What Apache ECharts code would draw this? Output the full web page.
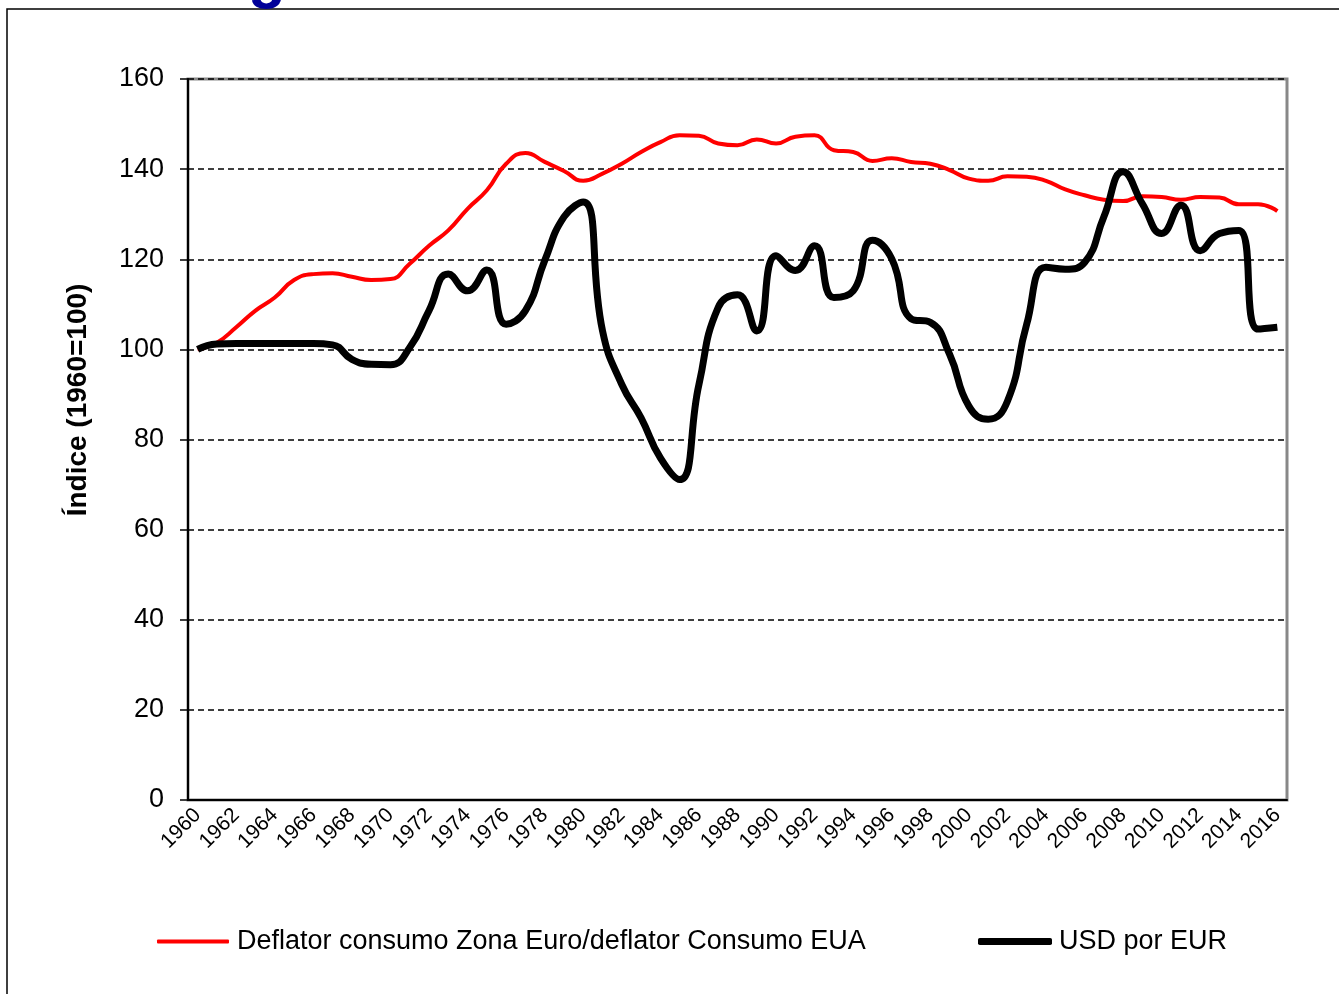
<!DOCTYPE html>
<html>
<head>
<meta charset="utf-8">
<script src="https://cdn.jsdelivr.net/npm/echarts@6/dist/echarts.min.js"></script>
<style>
  html, body { margin: 0; padding: 0; background: #fff; }
  #chart { width: 1339px; height: 994px; }
</style>
</head>
<body>
<div id="chart"></div>
<script>
  const years = [];
  for (let y = 1960; y <= 2016; y++) years.push(String(y));

  const deflatorName = 'Deflator consumo Zona Euro/deflator Consumo EUA';
  const usdName = 'USD por EUR';

  // deflator ratio index (1960=100)
  const deflator = [
    100, 101.5, 104.9, 108.6, 111.5, 115.4, 116.7, 116.9, 116.1, 115.4,
    115.6, 119, 123, 126.4, 131.2, 135.3, 141.2, 143.6, 141.6, 139.6,
    137.4, 139, 141.2, 143.8, 146, 147.5, 147.4, 145.7, 145.3, 146.6,
    145.7, 147.2, 147.5, 144.2, 143.8, 141.8, 142.4, 141.6, 141.2, 139.8,
    137.9, 137.4, 138.4, 138.3, 137.4, 135.5, 134.2, 133.2, 132.9, 134,
    133.8, 133.2, 133.8, 133.7, 132.2, 132.2, 130.7
  ];

  // USD per EUR index (1960=100)
  const usdEur = [
    100, 101.2, 101.3, 101.3, 101.3, 101.3, 101.3, 101, 97.8, 96.7,
    96.6, 100.4, 108.6, 116.7, 113, 117.6, 105.6, 108.6, 119.7, 129.4,
    132.7, 104.1, 92.2, 84.8, 75.9, 71.1, 92.2, 109.3, 112.1, 104.1,
    120.8, 117.5, 123, 111.5, 113, 124.2, 120.1, 106.8, 106, 98.9,
    87.4, 84.5, 88.5, 105.6, 118.2, 117.8, 119.3, 129.4, 139.4, 132.3,
    125.7, 132, 121.9, 125.7, 126.4, 104.5, 104.9
  ];

  const FONT = '"Liberation Sans", Arial, sans-serif';

  const chart = echarts.init(document.getElementById('chart'));
  chart.setOption({
    animation: false,
    textStyle: { fontFamily: FONT, color: '#000' },
    grid: {
      left: 188, top: 79, right: 52, bottom: 194,
      show: true, borderColor: '#888', borderWidth: 3, backgroundColor: '#fff'
    },
    graphic: [
      {
        type: 'rect', silent: true, z: -1,
        shape: { x: 7, y: 9, width: 1345, height: 1000 },
        style: { fill: 'none', stroke: '#000', lineWidth: 1.5 }
      },
      {
        type: 'text', left: 248, top: -52, silent: true,
        style: { text: 'g', font: 'bold 62px ' + FONT, fill: '#000099' }
      },
      {
        type: 'text', silent: true,
        x: 78, y: 400, rotation: Math.PI / 2,
        style: {
          text: 'Índice (1960=100)', font: 'bold 28px ' + FONT, fill: '#000',
          align: 'center', verticalAlign: 'middle'
        }
      }
    ],
    legend: [
      {
        data: [{ name: deflatorName, icon: 'roundRect' }],
        left: 157, top: 928, padding: 0, itemWidth: 72, itemHeight: 4, itemGap: 0,
        textStyle: { fontSize: 27, fontFamily: FONT, color: '#000', padding: [0, 0, 0, 3] },
        selectedMode: false
      },
      {
        data: [{ name: usdName, icon: 'roundRect' }],
        left: 978, top: 928, padding: 0, itemWidth: 74, itemHeight: 7, itemGap: 0,
        textStyle: { fontSize: 27, fontFamily: FONT, color: '#000', padding: [0, 0, 0, 2] },
        selectedMode: false
      }
    ],
    xAxis: {
      type: 'category',
      data: years,
      boundaryGap: true,
      axisLine: { lineStyle: { color: '#000', width: 2 } },
      axisTick: { interval: 0, length: 7, lineStyle: { color: '#000', width: 1.5 } },
      axisLabel: { interval: 1, rotate: 45, fontSize: 21, color: '#000', margin: 12, fontFamily: FONT },
      splitLine: { show: false }
    },
    yAxis: {
      type: 'value',
      min: 0, max: 160, interval: 20,
      axisLine: { show: true, lineStyle: { color: '#000', width: 2 } },
      axisTick: { show: true, length: 8, lineStyle: { color: '#000', width: 1.5 } },
      axisLabel: { fontSize: 27, color: '#000', margin: 24, fontFamily: FONT },
      splitLine: { lineStyle: { color: '#000', width: 1.5, type: [6, 4] } }
    },
    series: [
      {
        name: deflatorName, type: 'line', data: deflator,
        smooth: 0.5, symbol: 'none',
        lineStyle: { color: '#ff0000', width: 4 },
        itemStyle: { color: '#ff0000' }, z: 2
      },
      {
        name: usdName, type: 'line', data: usdEur,
        smooth: 0.5, symbol: 'none',
        lineStyle: { color: '#000', width: 7 },
        itemStyle: { color: '#000' }, z: 3
      }
    ]
  });
</script>
</body>
</html>
